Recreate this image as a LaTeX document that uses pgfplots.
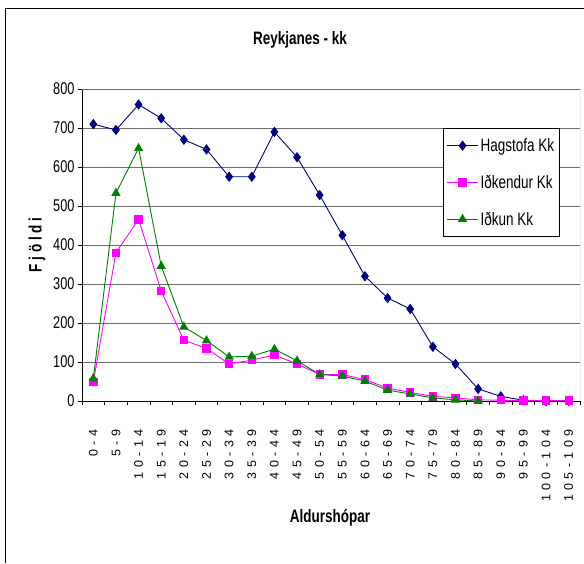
\documentclass[border=0pt]{standalone}
\usepackage{pgfplots}
\pgfplotsset{compat=1.18}
\usepackage{fontspec}
\setmainfont{Liberation Sans}
\newfontfamily\spaced[LetterSpace=35]{Liberation Sans}
\newfontfamily\cond[FakeStretch=0.75]{Liberation Sans}
\newfontfamily\condsp[FakeStretch=0.75,LetterSpace=21]{Liberation Sans}
\definecolor{hnavy}{RGB}{0,0,128}
\definecolor{hmag}{RGB}{255,0,255}
\definecolor{hgreen}{RGB}{0,128,0}
\definecolor{gridc}{RGB}{110,110,110}
\begin{document}
\begin{tikzpicture}
\useasboundingbox (0pt,0pt) rectangle (584pt,-563pt);
\draw[black,line width=1pt] (5pt,-563pt) -- (5pt,-8pt) -- (584pt,-8pt);
\node[font=\cond\bfseries\fontsize{18}{20}\selectfont] at (300pt,-40pt) {Reykjanes - kk};
\node[font=\cond\bfseries\fontsize{18}{20}\selectfont] at (330pt,-518pt) {Aldurshópar};
\node[font=\condsp\bfseries\fontsize{18}{20}\selectfont,rotate=90] at (37pt,-245pt) {Fjöldi};
\begin{axis}[
  at={(82pt,-401pt)}, anchor=south west,
  scale only axis, width=498pt, height=312pt,
  xmin=-0.5, xmax=21.5, ymin=0, ymax=800,
  axis lines=left, axis line style={-, black, line width=0.8pt},
  ytick={0,100,...,800},
  ymajorgrids, grid style={gridc, line width=0.8pt},
  xtick={0,...,21},
  xticklabels={0-4,5-9,10-14,15-19,20-24,25-29,30-34,35-39,40-44,45-49,50-54,55-59,60-64,65-69,70-74,75-79,80-84,85-89,90-94,95-99,100-104,105-109},
  minor xtick={-0.5,0.5,...,21.5},
  tick align=outside,
  major tick length=4pt, minor tick length=4pt,
  x tick style={draw=none},
  minor x tick style={draw=black, line width=0.8pt},
  y tick style={black, line width=0.8pt},
  xticklabel style={rotate=90, anchor=east, font=\spaced\fontsize{12.5}{13}\selectfont},
  xticklabel shift=21pt,
  yticklabel style={font=\cond\fontsize{17}{18}\selectfont},
  /pgf/number format/assume math mode=true,
  legend style={at={(0.725,0.875)}, anchor=north west, draw=black, fill=white,
    font=\cond\fontsize{18}{20}\selectfont, row sep=18pt, inner xsep=3pt, inner ysep=8pt,
    line width=0.8pt},
  legend cell align=left,
  legend image code/.code={\draw[mark repeat=2,mark phase=2] plot coordinates {(0cm,0cm) (0.55cm,0cm) (1.1cm,0cm)};},
]
\draw[gridc, line width=0.8pt] (rel axis cs:0,1) -- (rel axis cs:1,1) -- (rel axis cs:1,0);
\addplot[hnavy, line width=0.9pt, mark=diamond*, mark size=4.5pt, mark options={fill=hnavy, draw=hnavy}] coordinates {
(0,710) (1,695) (2,760) (3,725) (4,670) (5,645) (6,575) (7,575) (8,690) (9,625) (10,528) (11,425) (12,320) (13,264) (14,236) (15,139) (16,95) (17,31) (18,12) (19,2) (20,0) (21,0)};
\addlegendentry{Hagstofa Kk}
\addplot[hmag, line width=0.9pt, mark=square*, mark size=3.7pt, mark options={fill=hmag, draw=hmag}] coordinates {
(0,49) (1,380) (2,466) (3,282) (4,156) (5,135) (6,95) (7,105) (8,118) (9,95) (10,68) (11,68) (12,55) (13,33) (14,22) (15,12) (16,8) (17,3) (18,2) (19,1) (20,1) (21,1)};
\addlegendentry{Iðkendur Kk}
\addplot[hgreen, line width=0.9pt, mark=triangle*, mark size=4.5pt, mark options={fill=hgreen, draw=hgreen}] coordinates {
(0,58) (1,533) (2,648) (3,346) (4,190) (5,155) (6,113) (7,115) (8,133) (9,103) (10,68) (11,64) (12,51) (13,28) (14,18) (15,8) (16,3) (17,0)};
\addlegendentry{Iðkun Kk}
\end{axis}
\end{tikzpicture}
\end{document}
